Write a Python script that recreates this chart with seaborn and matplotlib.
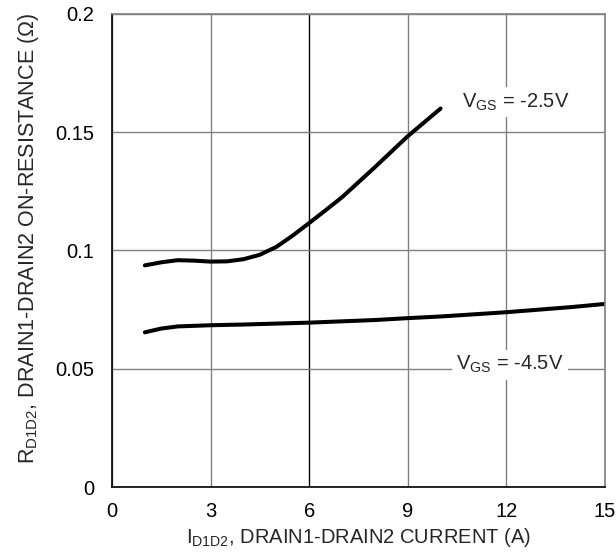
import matplotlib
matplotlib.use("Agg")
import matplotlib.pyplot as plt
import seaborn as sns
import pandas as pd

# values
i_vgs25 = [1, 1.5, 2, 2.5, 3, 3.5, 4, 4.5, 5, 5.5, 6, 6.5, 7, 8, 9, 10]
r_vgs25 = [0.0937, 0.0950, 0.0959, 0.0957, 0.0953, 0.0954, 0.0963, 0.0982,
           0.1015, 0.1063, 0.1116, 0.1170, 0.1225, 0.1352, 0.1483, 0.160]
i_vgs45 = [1, 1.5, 2, 3, 4, 6, 8, 9, 10, 12, 14, 15]
r_vgs45 = [0.0654, 0.0670, 0.0679, 0.0684, 0.0687, 0.0695, 0.0706, 0.0714,
           0.0721, 0.0739, 0.0761, 0.0774]
x_ticks = [0, 3, 6, 9, 12, 15]
y_ticks = [0, 0.05, 0.1, 0.15, 0.2]
y_tick_labels = ["0", "0.05", "0.1", "0.15", "0.2"]

df = pd.concat([
    pd.DataFrame({"I": i_vgs25, "R": r_vgs25, "vgs": "-2.5V"}),
    pd.DataFrame({"I": i_vgs45, "R": r_vgs45, "vgs": "-4.5V"}),
])

sns.set_theme(style="white")
plt.rcParams["font.family"] = ["Liberation Sans", "DejaVu Sans"]
plt.rcParams["mathtext.fontset"] = "custom"
plt.rcParams["mathtext.rm"] = "Liberation Sans"
plt.rcParams["mathtext.it"] = "Liberation Sans"

fig = plt.figure(figsize=(6.16, 5.56), dpi=100)
ax = fig.add_axes([0.1818, 0.124, 0.8002, 0.851])

sns.lineplot(data=df, x="I", y="R", units="vgs", estimator=None, color="black",
             linewidth=2.9, solid_capstyle="round", solid_joinstyle="round",
             sort=False, ax=ax)

ax.set_xlim(0, 15)
ax.set_ylim(0, 0.2)
ax.set_xticks(x_ticks)
ax.set_yticks(y_ticks)
ax.set_yticklabels(y_tick_labels)
ax.tick_params(axis="both", length=0, labelsize=14.5, colors="black")
ax.tick_params(axis="x", pad=11)
ax.tick_params(axis="y", pad=13)
ax.grid(True, color="#808080", linewidth=1)
ax.get_xgridlines()[2].set_color("black")

for side in ["top", "right"]:
    ax.spines[side].set_color("#808080")
for side in ["left", "bottom"]:
    ax.spines[side].set_color("black")
for s in ax.spines.values():
    s.set_linewidth(1.2)

ax.set_xlabel(r"I$_{\mathrm{D1D2}}$, DRAIN1-DRAIN2 CURRENT (A)", fontsize=14.5, labelpad=3)
ax.set_ylabel(r"R$_{\mathrm{D1D2}}$, DRAIN1-DRAIN2 ON-RESISTANCE ($\Omega$)", fontsize=15.5, labelpad=10)
ax.yaxis.label.set_y(0.526)

box = dict(facecolor="white", edgecolor="none", pad=3)
ax.text(12.3, 0.1627, r"V$_{\mathrm{GS}}$ = -2.5V", fontsize=14.5, ha="center", va="center", bbox=box)
ax.text(12.1, 0.0517, r"V$_{\mathrm{GS}}$ = -4.5V", fontsize=14.5, ha="center", va="center", bbox=box)

fig.savefig("out.png", dpi=100)
